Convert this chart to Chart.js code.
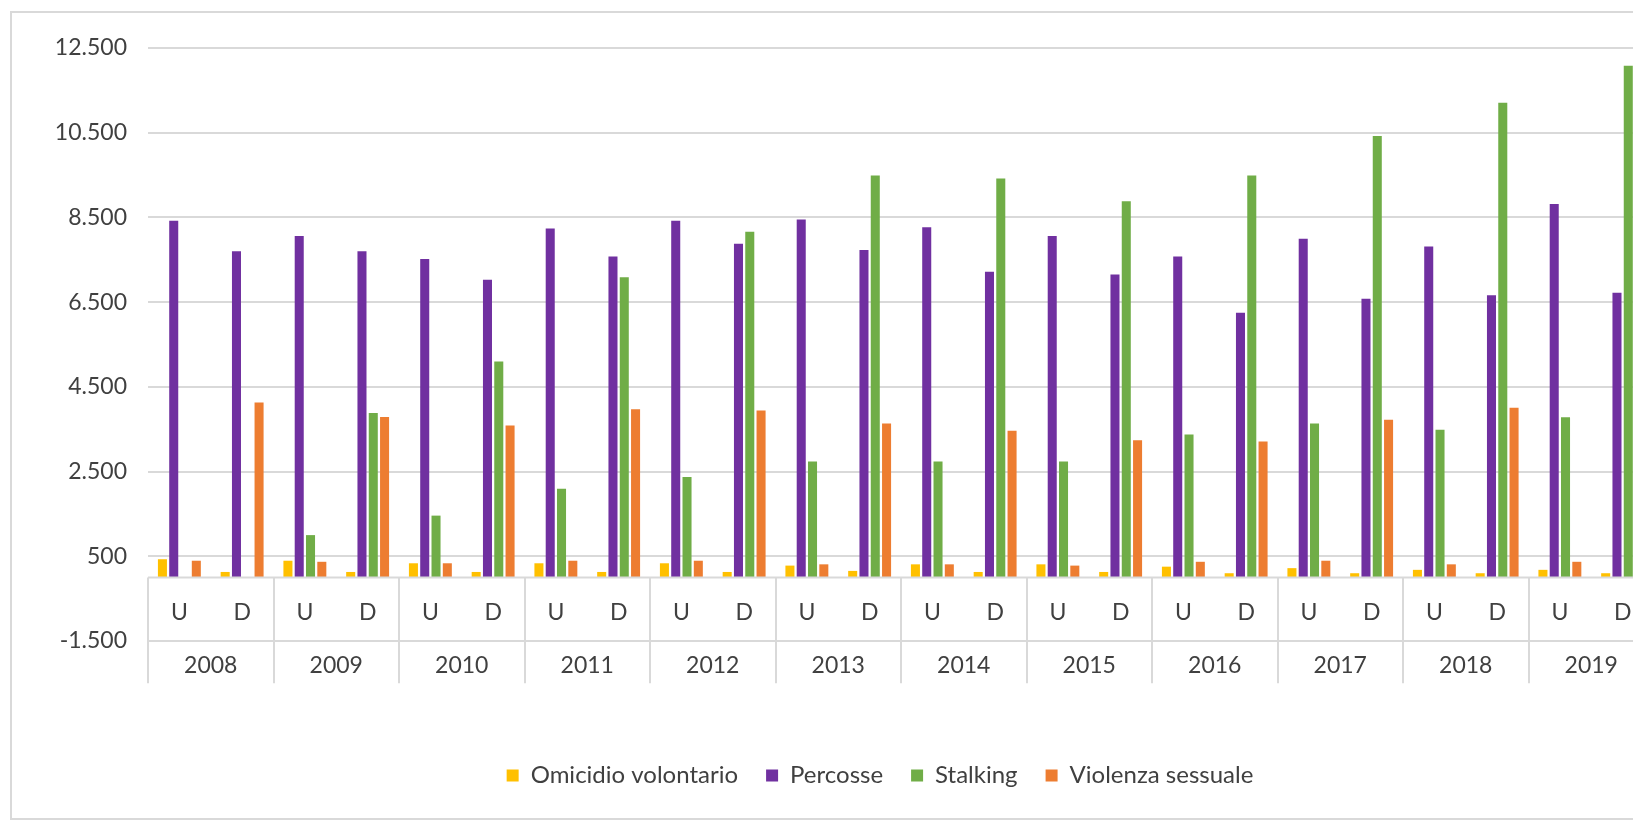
<!DOCTYPE html>
<html>
<head>
<meta charset="utf-8">
<script src="https://cdn.jsdelivr.net/npm/chart.js@4.4.0/dist/chart.umd.min.js"></script>
<style>
  html, body { margin: 0; padding: 0; background: #fff; overflow: hidden; }
  .frame { position: absolute; left: 10px; top: 11px; width: 1738px; height: 805px; border: 2px solid #d9d9d9; }
  canvas { display: block; }
</style>
</head>
<body>
<div class="frame"><canvas id="myChart" width="1738" height="805"></canvas></div>
<script>
const years = ['2008', '2009', '2010', '2011', '2012', '2013', '2014', '2015', '2016', '2017', '2018', '2019'];
const sexes = ['U', 'D'];

// values per category, order: 2008 U, 2008 D, 2009 U, 2009 D, ...
const omicidio = [430, 130, 395, 130, 335, 130, 335, 130, 335, 130, 280, 155, 310, 130, 310, 130, 255, 100, 220, 100, 180, 100, 180, 100];
const percosse = [8420, 7700, 8060, 7700, 7520, 7030, 8240, 7575, 8420, 7880, 8450, 7730, 8270, 7220, 8060, 7150, 7575, 6250, 7995, 6580, 7815, 6665, 8815, 6720];
const stalking = [null, null, 1000, 3880, 1460, 5100, 2095, 7090, 2370, 8160, 2735, 9490, 2735, 9420, 2735, 8880, 3375, 9490, 3635, 10425, 3490, 11210, 3785, 12080];
const violenza = [395, 4130, 370, 3790, 335, 3585, 395, 3970, 395, 3940, 310, 3635, 310, 3465, 280, 3240, 370, 3210, 395, 3725, 310, 4005, 370, 4100];

const labels = [];
years.forEach(y => sexes.forEach(s => labels.push(y + ' ' + s)));

const gridColor = '#d9d9d9';
const textColor = '#404040';
const axisFontSize = 23;

Chart.defaults.font.family = 'Lato';
Chart.defaults.font.size = axisFontSize;
Chart.defaults.color = textColor;

// draws the two-level category axis (U/D and years) below the zero line
const categoryTable = {
  id: 'categoryTable',
  afterDatasetsDraw(chart) {
    const {ctx, chartArea, scales: {x, y}} = chart;
    const y0 = y.getPixelForValue(0);
    const yMid = y.getPixelForValue(-1500);
    const yBottom = y.getPixelForValue(-2500);
    const half = (x.getPixelForValue(1) - x.getPixelForValue(0)) / 2;

    ctx.save();
    ctx.strokeStyle = gridColor;
    ctx.lineWidth = 2;
    ctx.beginPath();
    ctx.moveTo(chartArea.left, y0);
    ctx.lineTo(chartArea.right, y0);
    for (let i = 0; i <= years.length; i++) {
      const xx = i < years.length ? x.getPixelForValue(i * 2) - half : chartArea.right;
      ctx.moveTo(Math.round(xx), y0);
      ctx.lineTo(Math.round(xx), yBottom);
    }
    ctx.stroke();

    ctx.fillStyle = textColor;
    ctx.font = axisFontSize + 'px Lato';
    ctx.textAlign = 'center';
    ctx.textBaseline = 'middle';
    labels.forEach((l, i) => {
      ctx.fillText(sexes[i % 2], x.getPixelForValue(i), (y0 + yMid) / 2 + 3);
    });
    years.forEach((yr, i) => {
      const cx = (x.getPixelForValue(2 * i) + x.getPixelForValue(2 * i + 1)) / 2;
      ctx.fillText(yr, cx, (yMid + yBottom) / 2 + 3);
    });
    ctx.restore();
  }
};

// legend is centred on the whole frame, not on the plot
const legendShift = {
  id: 'legendShift',
  afterLayout(chart) {
    chart.legend.left += 47;
    chart.legend.right += 47;
  }
};

const ctx = document.getElementById('myChart');

new Chart(ctx, {
  type: 'bar',
  data: {
    labels: labels,
    datasets: [
      { label: 'Omicidio volontario', data: omicidio, backgroundColor: '#FFC000' },
      { label: 'Percosse', data: percosse, backgroundColor: '#7030A0' },
      { label: 'Stalking', data: stalking, backgroundColor: '#70AD47' },
      { label: 'Violenza sessuale', data: violenza, backgroundColor: '#ED7D31' }
    ]
  },
  options: {
    responsive: false,
    animation: false,
    categoryPercentage: 0.72,
    barPercentage: 0.8,
    layout: { padding: { left: 0, right: 96, top: 35, bottom: 20.5 } },
    plugins: {
      legend: {
        position: 'bottom',
        labels: { boxWidth: 12, boxHeight: 12, padding: 28, font: { size: 24 } }
      },
      tooltip: { enabled: false }
    },
    scales: {
      x: {
        grid: { display: false },
        border: { display: false },
        ticks: { display: false },
        afterFit(scale) { scale.height = 94.5; }
      },
      y: {
        min: -1500,
        max: 12500,
        grid: { color: gridColor, lineWidth: 2, drawTicks: false },
        border: { display: false },
        ticks: {
          stepSize: 2000,
          padding: 21,
          callback: v => (v < 0 ? '-' : '') + String(Math.abs(v)).replace(/\B(?=(\d{3})+(?!\d))/g, '.')
        },
        afterFit(scale) { scale.width = 136; }
      }
    }
  },
  plugins: [categoryTable, legendShift]
});
</script>
</body>
</html>
